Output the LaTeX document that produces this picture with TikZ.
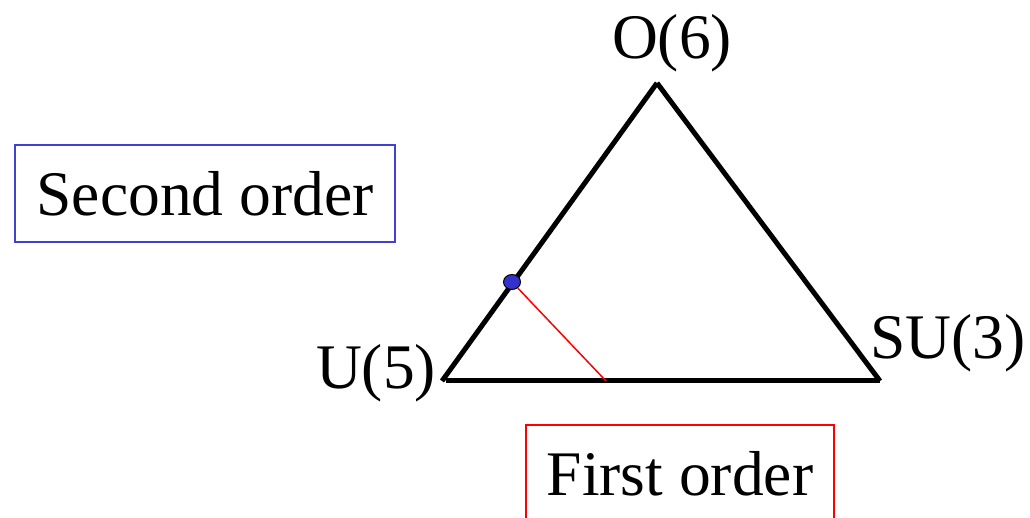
\documentclass[tikz,border=0pt]{standalone}
\usepackage{fontspec}
\setmainfont{Liberation Serif}
\usepackage{tikz}
\usetikzlibrary{shapes,arrows}
\usetikzlibrary{positioning,fit}
\definecolor{dotblue}{RGB}{51,51,204}
\definecolor{boxblue}{RGB}{64,64,210}
\tikzstyle{edge} = [draw, line width=5pt]
\tikzstyle{tag} = [inner sep=0pt, font=\fontsize{63.5}{76}\selectfont]
\tikzstyle{order} = [draw, line width=1.5pt, inner sep=0pt,
    font=\fontsize{63.5}{76}\selectfont]

\begin{document}
\begin{tikzpicture}[x=1pt, y=1pt]
  \useasboundingbox (0,0) rectangle (1030,518);
  \coordinate (o6) at (657,435);
  \coordinate (u5) at (442,137);
  \coordinate (su3) at (880,137);
  \coordinate (b1) at (446,137);
  \node [tag] (lo6) at (672,475) {O(6)};
  \node [tag] (lu5) at (376,145) {U(5)};
  \node [tag] (lsu3) at (948,175) {SU(3)};
  \node [order, draw=boxblue, minimum width=380pt, minimum height=97pt]
    (second) at (205,324.5) {Second order};
  \node [order, draw=red, minimum width=308pt, minimum height=97pt]
    (first) at (680,44.5) {First order};
  \draw [edge] (u5) -- (o6);
  \draw [edge] (o6) -- (su3);
  \draw [edge] (b1) -- (su3);
  \coordinate (fo) at (606,137);
  \node [draw, ellipse, fill=dotblue, line width=1pt, minimum width=17pt,
    minimum height=15pt, inner sep=0pt] (pt) at (512,236) {};
  \draw [red, line width=1.5pt] (pt) -- (fo);
\end{tikzpicture}
\end{document}
